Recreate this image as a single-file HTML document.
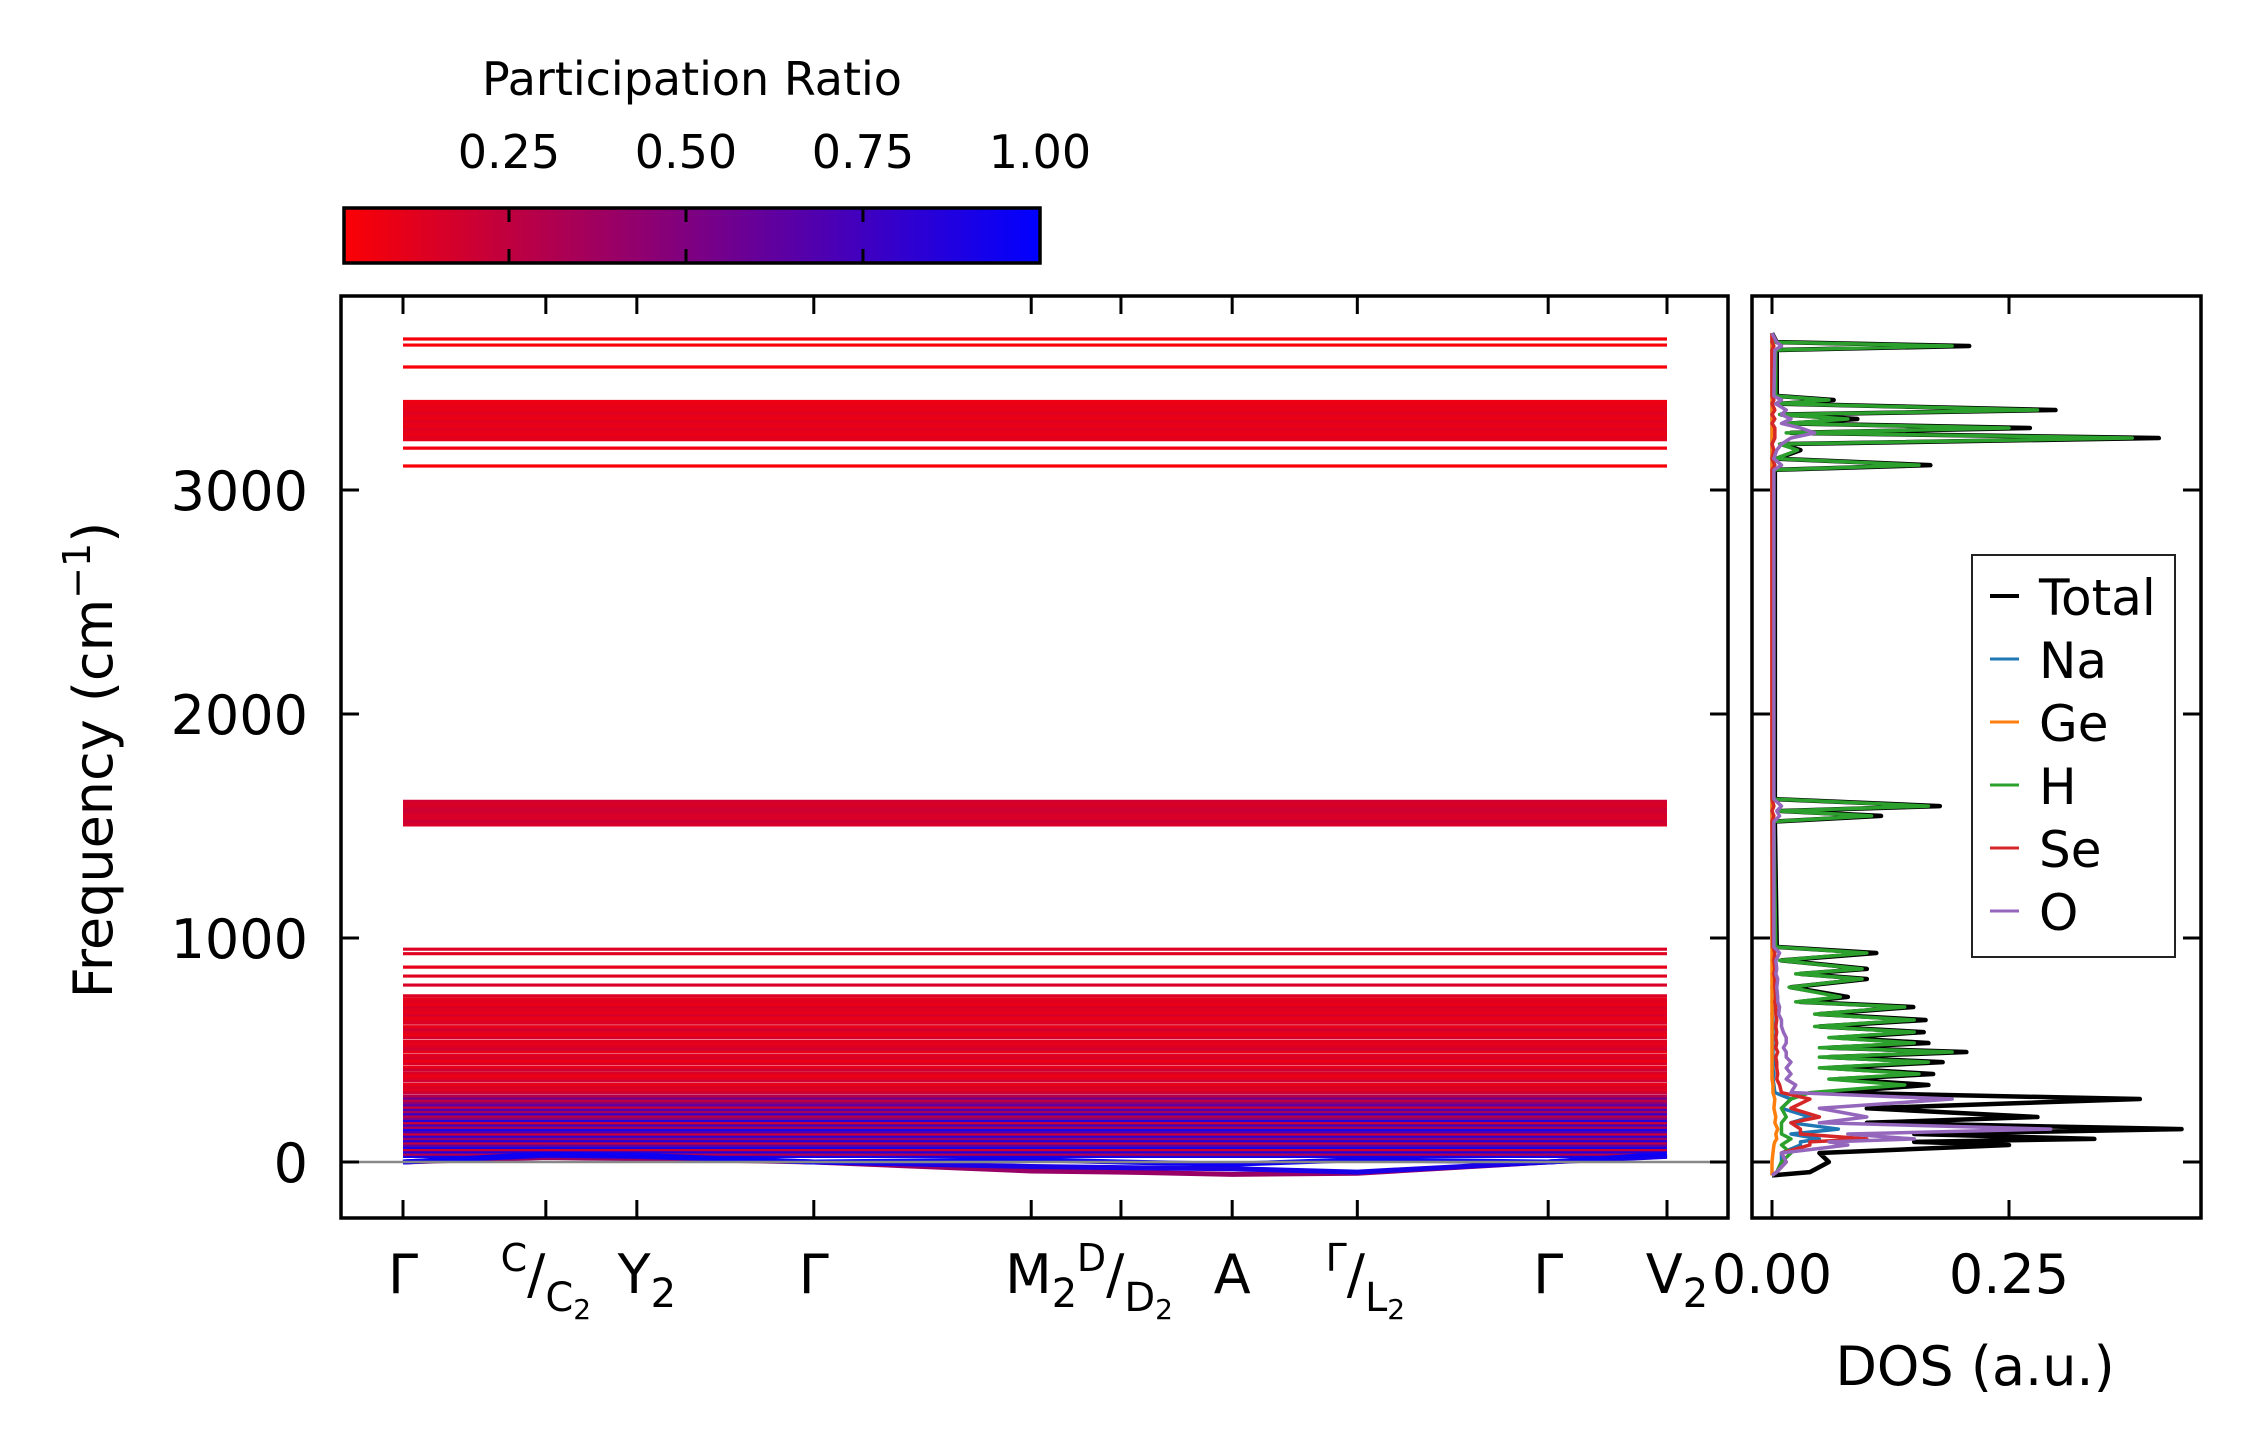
<!DOCTYPE html>
<html><head><meta charset="utf-8"><style>
html,body{margin:0;padding:0;background:#fff;}
svg{display:block;font-family:"DejaVu Sans","Liberation Sans",sans-serif;}
</style></head><body>
<svg id="fig" width="2259" height="1455" viewBox="0 0 2259 1455" xmlns="http://www.w3.org/2000/svg">
<defs>
<linearGradient id="cbgrad" x1="0" x2="1" y1="0" y2="0">
<stop offset="0" stop-color="rgb(251,0,4)"/><stop offset="1" stop-color="rgb(0,0,255)"/>
</linearGradient>
<clipPath id="clipMain"><rect x="341" y="296" width="1386" height="921"/></clipPath>
<clipPath id="clipDos"><rect x="1753" y="296" width="447" height="921"/></clipPath>
</defs>
<rect width="2259" height="1455" fill="#fff"/>
<g id="colorbar">
<text x="692" y="95" font-size="46" text-anchor="middle">Participation Ratio</text>
<rect x="344" y="208" width="696" height="55" fill="url(#cbgrad)" stroke="#000" stroke-width="3.5"/>
</g>
<g id="bands" clip-path="url(#clipMain)"></g>
<g id="dos" clip-path="url(#clipDos)"></g>
<g id="axes"></g>
</svg>
<script>
// ---- data ----
const kLabels = ["Γ","C|C2","Y2","Γ","M2","D|D2","A","Γ|L2","Γ","V2"];
const kDist = [0,0.113,0.185,0.325,0.497,0.568,0.656,0.755,0.906,1.0];
const flatFreq = [25,35,45,55,65,75,85,95,105,115,125,135,145,155,165,175,185,195,205,215,225,235,245,255,265,275,285,295,
 310,322,334,346,362,374,386,398,412,424,440,452,464,476,492,504,516,528,540,556,568,580,592,604,620,632,644,656,668,680,692,704,716,728,742,
 790,830,870,930,950,
 1505,1515,1525,1535,1548,1560,1572,1585,1597,1610,
 3107,3187,3225,3237,3249,3261,3273,3285,3297,3309,3321,3333,3345,3357,3369,3381,3395,3549,3647,3674];
const flatPR = [0.9,0.3,0.85,0.2,0.9,0.6,0.25,0.85,0.4,0.8,0.2,0.7,0.9,0.3,0.75,0.2,0.85,0.5,0.25,0.8,0.35,0.7,0.2,0.65,0.45,0.25,0.55,0.3,
 0.2,0.12,0.15,0.1,0.18,0.12,0.08,0.15,0.2,0.1,0.14,0.08,0.16,0.12,0.1,0.18,0.14,0.1,0.12,0.16,0.08,0.12,0.18,0.1,0.14,0.12,0.08,0.16,0.1,0.12,0.15,0.08,0.12,0.1,0.14,
 0.15,0.12,0.1,0.12,0.14,
 0.15,0.18,0.2,0.16,0.15,0.18,0.2,0.17,0.15,0.18,
 0.03,0.05,0.1,0.12,0.08,0.1,0.12,0.09,0.1,0.12,0.08,0.1,0.12,0.09,0.1,0.08,0.07,0.03,0.03,0.04];
const dispBand1 = [0,20,15,0,-40,-45,-55,-50,0,30];
const dispBand2 = [0,30,25,0,-20,-25,-30,-45,0,25];
const dispBand3 = [0,35,30,0,10,0,-10,10,0,35];
const dispPR = [0.4,0.9,0.95];
const yTicks = [0,1000,2000,3000];
const cbTicks = [0.25,0.5,0.75,1.0];
const cbTickLabels = ["0.25","0.50","0.75","1.00"];
const dosTicks = [0,0.25];
const dosTickLabels = ["0.00","0.25"];
const dosFreq = [3700,3660,3643,3625,3420,3402,3385,3357,3337,3317,3297,3277,3255,3232,3205,3178,3140,3111,3090,1620,1589,1567,1545,1520,960,933,900,862,840,817,780,737,715,692,660,634,605,580,555,531,510,491,468,446,420,393,370,344,310,281,240,201,175,147,125,103,90,76,40,0,-45,-60];
const dosTotal = [0,.005,.208,.005,.005,.065,.01,.299,.01,.09,.02,.272,.02,.408,.01,.03,.005,.167,.003,.003,.177,.01,.115,.003,.005,.11,.01,.10,.03,.10,.02,.08,.03,.149,.05,.162,.05,.16,.07,.165,.06,.205,.06,.18,.06,.17,.07,.165,.06,.388,.1,.28,.1,.432,.15,.34,.15,.25,.05,.06,.04,0];
const dosH = [0,.004,.19,.004,.004,.06,.008,.28,.008,.08,.015,.25,.015,.38,.008,.027,.004,.155,.002,.002,.165,.008,.105,.002,.004,.1,.008,.095,.025,.095,.018,.072,.025,.14,.045,.15,.045,.15,.06,.15,.05,.19,.05,.165,.05,.155,.06,.14,.04,.02,.01,.015,.01,.01,.01,.02,.015,.01,.02,.01,.005,0];
const dosO = [0,.005,.01,.003,.002,.01,.004,.015,.01,.02,.01,.03,.045,.02,.01,.005,.002,.01,.002,.002,.01,.005,.008,.002,.002,.008,.004,.005,.004,.006,.005,.006,.006,.008,.007,.01,.01,.012,.015,.015,.012,.015,.015,.02,.015,.02,.015,.025,.02,.19,.05,.10,.05,.294,.08,.15,.06,.08,.01,.015,.005,0];
const dosSe = [0,0,.002,0,0,.002,0,.003,0,.003,0,.003,.003,.003,0,.002,0,.003,0,0,.002,0,.002,0,.001,.003,.002,.003,.002,.003,.003,.004,.003,.004,.004,.005,.004,.005,.004,.005,.004,.006,.004,.005,.005,.006,.005,.008,.01,.04,.02,.05,.02,.03,.03,.10,.04,.04,.01,.015,.005,0];
const dosNa = [0,0,0,0,0,0,0,0,0,0,0,0,0,0,0,0,0,0,0,0,0,0,0,0,0,.001,0,.001,0,.001,0,.001,0,.001,0,.001,.001,.001,.001,.001,.001,.001,.001,.002,.001,.002,.001,.002,.003,.02,.01,.04,.02,.07,.02,.05,.03,.03,.01,.01,.005,0];
const dosGe = [0,0,0,0,0,0,0,0,0,0,0,0,0,0,0,0,0,0,0,0,0,0,0,0,0,0,0,0,0,0,0,0,0,0,0,0,0,0,0,0,0,0,0,0,0,0,0,.001,.001,.003,.002,.004,.003,.006,.004,.005,.003,.002,.001,0,0,0];
const legendNames = ["Total","Na","Ge","H","Se","O"];
const legendColors = ["#000000","#1f77b4","#ff7f0e","#2ca02c","#d62728","#9467bd"];

// ---- axes functions ----
const NS = "http://www.w3.org/2000/svg";
const xK = d => 403 + d * 1264;
const yF = f => 1162 - f * 0.224;
const xD = v => 1772 + v * 948;
const xCb = p => 332 + p * 708;
const prColor = p => `rgb(${Math.round(255*(1-p))},0,${Math.round(255*p)})`;
function mk(tag, attrs, parent){ const e=document.createElementNS(NS,tag); for(const k in attrs) e.setAttribute(k,attrs[k]); parent.appendChild(e); return e; }

const bands = document.getElementById('bands');
const dos = document.getElementById('dos');
const axes = document.getElementById('axes');
const cb = document.getElementById('colorbar');

flatFreq.forEach((f,i)=>{
  const l = mk('line',{x1:xK(kDist[0]),x2:xK(kDist[kDist.length-1]),y1:yF(f),y2:yF(f),stroke:prColor(flatPR[i]),'stroke-width':3.2},bands);
  
  
});
[dispBand1,dispBand2,dispBand3].forEach((b,j)=>{
  const pts = b.map((f,i)=>xK(kDist[i])+','+yF(f)).join(' ');
  const p = mk('polyline',{points:pts,fill:'none',stroke:prColor(dispPR[j]),'stroke-width':5},bands);
  
  
});
const zl = mk('line',{x1:341,x2:1727,y1:yF(0),y2:yF(0),stroke:'#888','stroke-width':2.5},bands);



const series = [dosTotal,dosNa,dosGe,dosH,dosSe,dosO];
series.forEach((s,j)=>{
  const pts = s.map((v,i)=>xD(v)+','+yF(dosFreq[i])).join(' ');
  const p = mk('polyline',{points:pts,fill:'none',stroke:legendColors[j],'stroke-width':j===0?4.5:3.5,'stroke-linejoin':'round'},dos);
  
  
});

const mf = mk('rect',{x:341,y:296,width:1387,height:922,fill:'none',stroke:'#000','stroke-width':3.5},axes);


const df = mk('rect',{x:1752,y:296,width:449,height:922,fill:'none',stroke:'#000','stroke-width':3.5},axes);



yTicks.forEach(t=>{
  const y=yF(t);
  [[341,359],[1728,1710],[1752,1770],[2201,2183]].forEach(([a,b])=>{
    const tk=mk('line',{x1:a,x2:b,y1:y,y2:y,stroke:'#000','stroke-width':3},axes);
    
    
  });
  const tx=mk('text',{x:308,y:y+20,'font-size':54,'text-anchor':'end'},axes);
  tx.textContent=String(t);
  
  
});
kDist.forEach(d=>{
  const x=xK(d);
  [[1218,1200],[296,314]].forEach(([a,b])=>{
    const tk=mk('line',{x1:x,x2:x,y1:a,y2:b,stroke:'#000','stroke-width':3},axes);
    
    
  });
});
function kLabel(x,parts){
  const t=mk('text',{x:x,y:1293,'font-size':54,'text-anchor':'middle'},axes);
  
  
  parts.forEach(([s,size,dy])=>{ const ts=mk('tspan',{'font-size':size,dy:dy},t); ts.textContent=s; });
}
kLabel(xK(kDist[0]),[["Γ",54,0]]);
kLabel(xK(kDist[1]),[["C",38,-22],["/",54,22],["C",40,18],["2",28,8]]);
kLabel(xK(kDist[2])+10,[["Y",54,0],["2",40,14]]);
kLabel(xK(kDist[3]),[["Γ",54,0]]);
kLabel(xK(kDist[4])+10,[["M",54,0],["2",40,14]]);
kLabel(xK(kDist[5])+4,[["D",38,-22],["/",54,22],["D",40,18],["2",28,8]]);
kLabel(xK(kDist[6]),[["A",54,0]]);
kLabel(xK(kDist[7])+8,[["Γ",38,-22],["/",54,22],["L",40,18],["2",28,8]]);
kLabel(xK(kDist[8]),[["Γ",54,0]]);
kLabel(xK(kDist[9])+10,[["V",54,0],["2",40,14]]);

dosTicks.forEach((v,i)=>{
  const x=xD(v);
  [[1218,1200],[296,314]].forEach(([a,b])=>{
    const tk=mk('line',{x1:x,x2:x,y1:a,y2:b,stroke:'#000','stroke-width':3},axes);
    
    
  });
  const tx=mk('text',{x:x,y:1293,'font-size':54,'text-anchor':'middle'},axes);
  tx.textContent=dosTickLabels[i];
  
  
});

const yl=mk('text',{x:0,y:0,'font-size':54,'text-anchor':'middle',transform:'translate(112,760) rotate(-90)'},axes);


yl.appendChild(document.createTextNode('Frequency (cm'));
const sup=mk('tspan',{'font-size':38,dy:-22},yl); sup.textContent='−1';
const cl=mk('tspan',{dy:22},yl); cl.textContent=')';
const xl=mk('text',{x:1975,y:1385,'font-size':54,'text-anchor':'middle'},axes);
xl.textContent='DOS (a.u.)';



cbTicks.forEach((p,i)=>{
  const x=xCb(p);
  if(p<1){
    [[208,222],[263,249]].forEach(([a,b])=>{
      const tk=mk('line',{x1:x,x2:x,y1:a,y2:b,stroke:'#000','stroke-width':3},cb);
      
      
    });
  }
  const tx=mk('text',{x:x,y:168,'font-size':46,'text-anchor':'middle'},cb);
  tx.textContent=cbTickLabels[i];
  
  
});

const lg=mk('g',{},axes);


mk('rect',{x:1972,y:555,width:203,height:402,fill:'#fff',stroke:'#222','stroke-width':2},lg);
legendNames.forEach((n,i)=>{
  const y=596+i*63;
  const ln=mk('line',{x1:1990,x2:2019,y1:y,y2:y,stroke:legendColors[i],'stroke-width':i===0?4:3},lg);
  
  
  const tx=mk('text',{x:2039,y:y+19,'font-size':50},lg);
  tx.textContent=n;
  
  
});
</script>
</body></html>
